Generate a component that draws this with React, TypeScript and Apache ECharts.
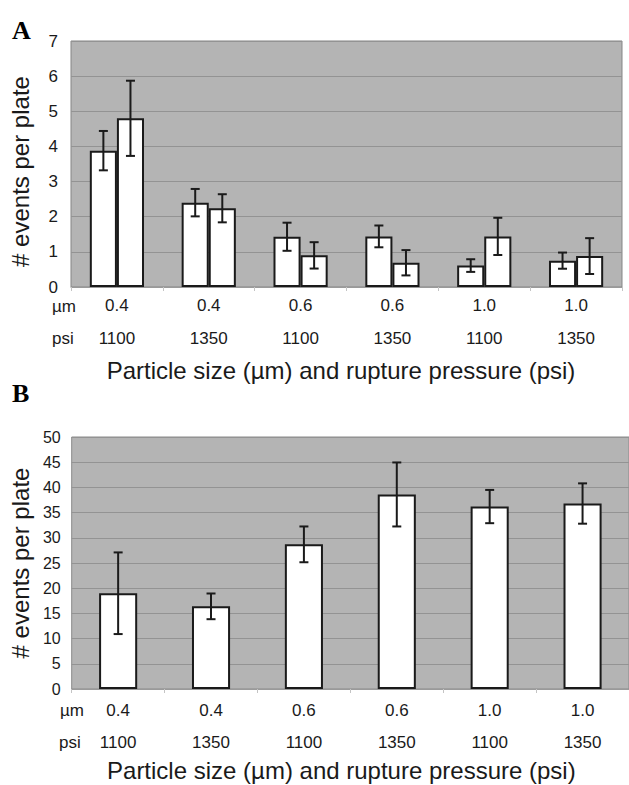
import React, { useEffect, useRef } from "react";
import * as echarts from "echarts";

// ---- data ----
const particleSizes = ["0.4", "0.4", "0.6", "0.6", "1.0", "1.0"];
const pressures = ["1100", "1350", "1100", "1350", "1100", "1350"];

// Panel A (two bars per group)
const aMean1 = [3.88, 2.4, 1.43, 1.44, 0.61, 0.75];
const aErr1 = [0.56, 0.39, 0.4, 0.31, 0.18, 0.23];
const aMean2 = [4.8, 2.24, 0.9, 0.69, 1.44, 0.88];
const aErr2 = [1.07, 0.4, 0.375, 0.36, 0.53, 0.51];

// Panel B
const bMean = [19.0, 16.4, 28.7, 38.6, 36.2, 36.8];
const bErr = [8.1, 2.55, 3.55, 6.35, 3.3, 4.0];

const yTitle = "# events per plate";
const xTitle = "Particle size (\u00b5m) and rupture pressure (psi)";

const FONT = "'Liberation Sans', Arial, Helvetica, sans-serif";
const INK = "#1a1a1a";
const PLOT_BG = "#b4b4b4";
const GRID_LINE = "#939393";

const categories = particleSizes.map((s, i) => `${s}\n${pressures[i]}`);

function errorSeries(
  xAxisIndex: number,
  yAxisIndex: number,
  means: number[],
  errs: number[],
  catGap: number,
  nBars: number,
  offset: number
) {
  return {
    type: "custom",
    xAxisIndex,
    yAxisIndex,
    z: 5,
    silent: true,
    encode: { x: 0, y: 1 },
    data: means.map((m, i) => [i, m, errs[i]]),
    renderItem: (_params: any, api: any) => {
      const idx = api.value(0);
      const mean = api.value(1);
      const err = api.value(2);
      const catW = api.size([1, 0])[0];
      const barW = (catW * (1 - catGap)) / nBars;
      const c = api.coord([idx, mean]);
      const x = c[0] + offset * barW;
      const top = api.coord([idx, mean + err])[1];
      const bot = api.coord([idx, mean - err])[1];
      const cap = 4.5;
      const st = { stroke: INK, lineWidth: 2 };
      return {
        type: "group",
        children: [
          { type: "line", shape: { x1: x, y1: top, x2: x, y2: bot }, style: st },
          { type: "line", shape: { x1: x - cap, y1: top, x2: x + cap, y2: top }, style: st },
          { type: "line", shape: { x1: x - cap, y1: bot, x2: x + cap, y2: bot }, style: st },
        ],
      };
    },
  };
}

export default function App() {
  const ref = useRef<HTMLDivElement>(null);

  useEffect(() => {
    if (!ref.current) return;
    const chart = echarts.init(ref.current, undefined, { renderer: "svg" });

    const xAxisCommon = (gridIndex: number, margin: number, lineHeight: number, nameGap: number, padRight: number) => ({
      type: "category",
      gridIndex,
      data: categories,
      axisLine: { show: true, lineStyle: { color: "#9a9a9a", width: 1 } },
      axisTick: { show: true, length: 4, lineStyle: { color: "#c4c4c4" } },
      axisLabel: {
        color: INK,
        fontFamily: FONT,
        fontSize: 17,
        lineHeight,
        margin,
        interval: 0,
      },
      name: xTitle,
      nameLocation: "middle",
      nameGap,
      nameTextStyle: {
        color: INK,
        fontFamily: FONT,
        fontSize: 24,
        lineHeight: 24,
        padding: [0, padRight, 0, 0],
      },
      splitLine: { show: false },
    });

    const yAxisCommon = (gridIndex: number, max: number, interval: number, fontSize: number, margin: number, padRight: number) => ({
      type: "value",
      gridIndex,
      min: 0,
      max,
      interval,
      axisLine: { show: false },
      axisTick: { show: false },
      axisLabel: { color: INK, fontFamily: FONT, fontSize, margin },
      splitLine: { show: true, lineStyle: { color: GRID_LINE, width: 1 } },
      name: yTitle,
      nameLocation: "middle",
      nameGap: 39,
      nameTextStyle: {
        color: INK,
        fontFamily: FONT,
        fontSize: 24,
        lineHeight: 24,
        padding: [0, padRight, 0, 0],
      },
    });

    const barStyle = { color: "#ffffff", borderColor: INK, borderWidth: 2 };

    chart.setOption({
      animation: false,
      backgroundColor: "#ffffff",
      textStyle: { fontFamily: FONT },
      grid: [
        {
          left: 71,
          top: 41,
          width: 551,
          height: 246,
          show: true,
          backgroundColor: PLOT_BG,
          borderColor: "#858585",
          borderWidth: 1,
        },
        {
          left: 71,
          top: 437,
          width: 560,
          height: 252,
          show: true,
          backgroundColor: PLOT_BG,
          borderColor: "#8a8a8a",
          borderWidth: 1,
        },
      ],
      xAxis: [xAxisCommon(0, 2, 33, 71, 11), xAxisCommon(1, 5, 32, 67, 18)],
      yAxis: [yAxisCommon(0, 7, 1, 17, 13, 15), yAxisCommon(1, 50, 5, 16, 11, 0)],
      series: [
        {
          type: "bar",
          xAxisIndex: 0,
          yAxisIndex: 0,
          data: aMean1,
          barGap: "0%",
          barCategoryGap: "41%",
          itemStyle: barStyle,
        },
        {
          type: "bar",
          xAxisIndex: 0,
          yAxisIndex: 0,
          data: aMean2,
          barGap: "0%",
          barCategoryGap: "41%",
          itemStyle: barStyle,
        },
        {
          type: "bar",
          xAxisIndex: 1,
          yAxisIndex: 1,
          data: bMean,
          barCategoryGap: "59%",
          itemStyle: barStyle,
        },
        errorSeries(0, 0, aMean1, aErr1, 0.41, 2, -0.5),
        errorSeries(0, 0, aMean2, aErr2, 0.41, 2, 0.5),
        errorSeries(1, 1, bMean, bErr, 0.59, 1, 0),
      ],
      graphic: [
        {
          type: "text",
          x: 12,
          y: 30,
          style: {
            text: "A",
            fontFamily: "'Liberation Serif', 'Times New Roman', serif",
            fontWeight: "bold",
            fontSize: 26,
            fill: "#000",
            textVerticalAlign: "middle",
            textAlign: "left",
          },
        },
        {
          type: "text",
          x: 12,
          y: 393,
          style: {
            text: "B",
            fontFamily: "'Liberation Serif', 'Times New Roman', serif",
            fontWeight: "bold",
            fontSize: 26,
            fill: "#000",
            textVerticalAlign: "middle",
            textAlign: "left",
          },
        },
        { type: "text", x: 52, y: 306, style: { text: "\u00b5m", fontFamily: FONT, fontSize: 17, fill: INK, textAlign: "left", textVerticalAlign: "middle" } },
        { type: "text", x: 52, y: 338.5, style: { text: "psi", fontFamily: FONT, fontSize: 17, fill: INK, textAlign: "left", textVerticalAlign: "middle" } },
        { type: "text", x: 60, y: 710.5, style: { text: "\u00b5m", fontFamily: FONT, fontSize: 17, fill: INK, textAlign: "left", textVerticalAlign: "middle" } },
        { type: "text", x: 59, y: 742, style: { text: "psi", fontFamily: FONT, fontSize: 17, fill: INK, textAlign: "left", textVerticalAlign: "middle" } },
      ],
    });

    return () => {
      chart.dispose();
    };
  }, []);

  return (
    <div
      ref={ref}
      style={{ position: "absolute", left: 0, top: 0, width: 629, height: 785, background: "#fff" }}
    />
  );
}
